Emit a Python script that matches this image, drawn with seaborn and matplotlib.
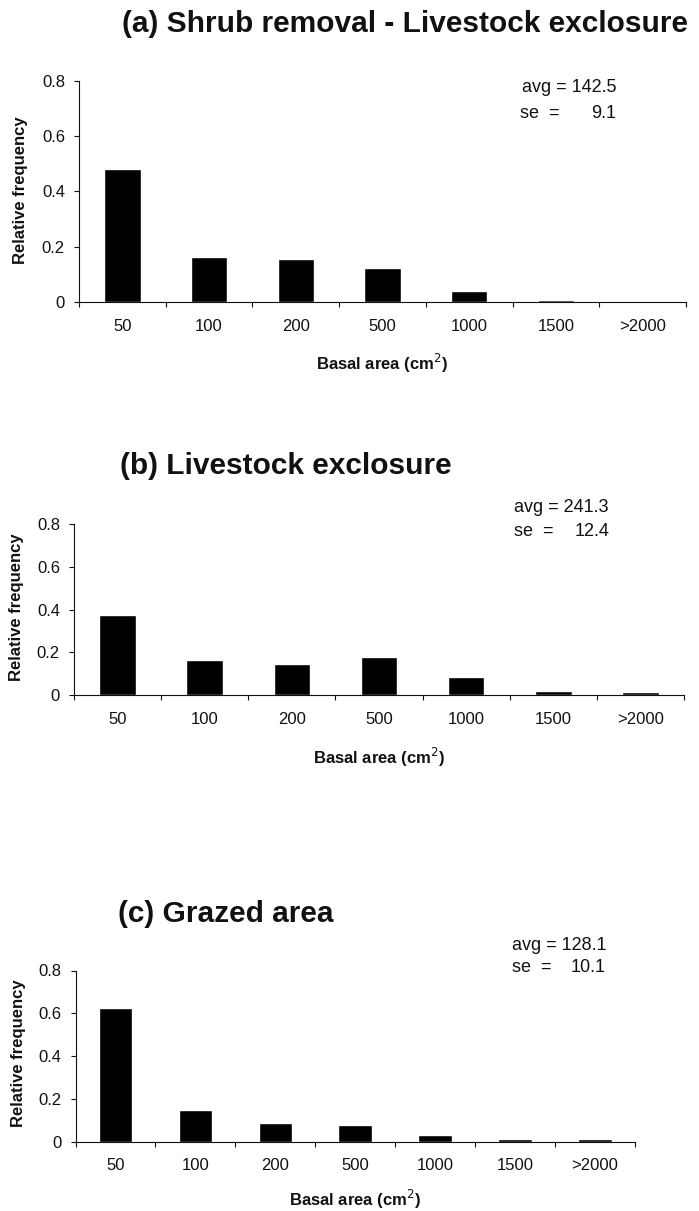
import matplotlib
matplotlib.use("Agg")
import matplotlib.pyplot as plt
import seaborn as sns
import pandas as pd
import numpy as np
from matplotlib.ticker import FixedLocator

# ---------------- data ----------------
categories = ["50", "100", "200", "500", "1000", "1500", ">2000"]
freq_a = [0.482, 0.163, 0.156, 0.124, 0.041, 0.006, 0.002]
freq_b = [0.374, 0.166, 0.147, 0.177, 0.083, 0.019, 0.016]
freq_c = [0.627, 0.148, 0.088, 0.077, 0.030, 0.011, 0.011]
titles = ["(a) Shrub removal - Livestock exclosure",
          "(b) Livestock exclosure",
          "(c) Grazed area"]
avg_vals = ["142.5", "241.3", "128.1"]
se_vals = ["9.1", "12.4", "10.1"]
ytick_vals = [0, 0.2, 0.4, 0.6, 0.8]
ytick_labels = ["0", "0.2", "0.4", "0.6", "0.8"]

# ---------------- style ----------------
sns.set_theme(style="white")
plt.rcParams["font.family"] = ["Liberation Sans", "DejaVu Sans"]

W, H = 699, 1211
fig = plt.figure(figsize=(W / 100, H / 100), dpi=100)

def fx(px):
    return px / W

def fy(py):
    return 1 - py / H

# layout in pixels: (left, right, top(0.8), bottom(0))
layouts = [
    dict(ax=(79, 686, 80.7, 302), title=(122, 24), stats=(520, 616, 87, 113),
         ylab=(20.7, 190), xlab_y=363),
    dict(ax=(74, 684, 524, 695), title=(120, 466), stats=(514, 609, 507, 531),
         ylab=(16.7, 607), xlab_y=757),
    dict(ax=(75.5, 635, 970.5, 1141.7), title=(118, 914), stats=(512, 606, 945, 968),
         ylab=(18.3, 1053), xlab_y=1199),
]
series = [freq_a, freq_b, freq_c]
TXT = "#111111"

for i, (vals, lay) in enumerate(zip(series, layouts)):
    l, r, t, b = lay["ax"]
    ax = fig.add_axes([fx(l), fy(b), (r - l) / W, (b - t) / H])
    df = pd.DataFrame({"Basal area": categories, "Relative frequency": vals})
    sns.barplot(data=df, x="Basal area", y="Relative frequency", color="black",
                saturation=1, width=0.42, ax=ax, order=categories)
    ax.set_xlim(-0.5, len(categories) - 0.5)
    ax.set_ylim(0, 0.8)
    ax.set_yticks(ytick_vals)
    ax.set_yticklabels(ytick_labels)
    for s in ["top", "right"]:
        ax.spines[s].set_visible(False)
    for s in ["left", "bottom"]:
        ax.spines[s].set_color(TXT)
        ax.spines[s].set_linewidth(0.8)
    ax.xaxis.set_minor_locator(FixedLocator(np.arange(-0.5, len(categories), 1.0)))
    ax.tick_params(axis="x", which="major", length=0, pad=12, labelsize=12,
                   colors=TXT, bottom=True)
    ax.tick_params(axis="x", which="minor", length=3.6, width=0.8, direction="out",
                   color=TXT, bottom=True)
    ax.tick_params(axis="y", which="major", length=3.6, width=0.8, direction="out",
                   pad=6.5, labelsize=12, colors=TXT, left=True)

    # axis labels
    ax.set_xlabel("Basal area (cm$^2$)", fontsize=12, fontweight="bold", color=TXT)
    ax.set_ylabel("Relative frequency", fontsize=12, fontweight="bold", color=TXT)
    ax.xaxis.label.set_va("center")
    ax.yaxis.label.set_va("center")
    ax.xaxis.set_label_coords(0.5, (b - lay["xlab_y"]) / (b - t))
    yl_x, yl_y = lay["ylab"]
    ax.yaxis.set_label_coords((yl_x - l) / (r - l), (b - yl_y) / (b - t))

    # title
    tx, ty = lay["title"]
    fig.text(fx(tx), fy(ty), titles[i], ha="left", va="center",
             fontsize=21.5, fontweight="bold", color=TXT)

    # stats
    sl, sr, sy1, sy2 = lay["stats"]
    fig.text(fx(sr), fy(sy1), "avg = " + avg_vals[i], ha="right", va="center",
             fontsize=13, color=TXT)
    fig.text(fx(sl), fy(sy2), "se  =", ha="left", va="center", fontsize=13, color=TXT)
    fig.text(fx(sr), fy(sy2), se_vals[i], ha="right", va="center", fontsize=13, color=TXT)

fig.savefig("out.png", dpi=100)
